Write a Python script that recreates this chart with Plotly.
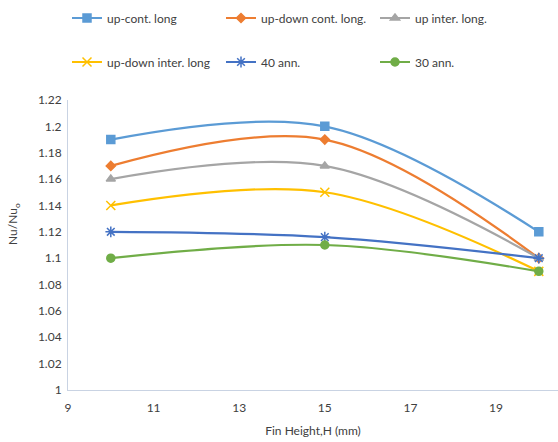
import plotly.graph_objects as go

fin_height = [10, 15, 20]
series_names = ["up-cont. long", "up-down cont. long.", "up inter. long.",
                "up-down inter. long", "40 ann.", "30 ann."]
up_cont = [1.19, 1.20, 1.12]
up_down_cont = [1.17, 1.19, 1.10]
up_inter = [1.16, 1.17, 1.10]
up_down_inter = [1.14, 1.15, 1.09]
ann40 = [1.12, 1.116, 1.10]
ann30 = [1.10, 1.11, 1.09]

values = [up_cont, up_down_cont, up_inter, up_down_inter, ann40, ann30]
colors = ["#5B9BD5", "#ED7D31", "#A5A5A5", "#FFC000", "#4472C4", "#70AD47"]
symbols = ["square", "diamond", "triangle-up", "x-thin-open", "asterisk-open", "circle"]
sizes = [8, 7, 8, 9, 9, 8]
legends = ["legend", "legend", "legend", "legend2", "legend2", "legend2"]

FONT = "Lato"
TXT = "#404040"
fig = go.Figure()
for name, vals, c, s, sz, lg in zip(series_names, values, colors, symbols, sizes, legends):
    fig.add_trace(go.Scatter(
        x=fin_height, y=vals, name=name, mode="lines+markers",
        line=dict(color=c, width=2.2, shape="spline", smoothing=1.0),
        marker=dict(symbol=s, size=sz, color=c, line=dict(color=c, width=1.5)),
        legend=lg,
    ))

leg_common = dict(orientation="h", xanchor="left", yanchor="middle",
                  entrywidth=109, entrywidthmode="pixels",
                  font=dict(family=FONT, size=12, color=TXT),
                  bgcolor="rgba(0,0,0,0)", tracegroupgap=0, itemwidth=30)

fig.update_layout(
    width=558, height=442,
    margin=dict(l=68, r=0, t=100, b=52, autoexpand=False),
    paper_bgcolor="white", plot_bgcolor="white",
    font=dict(family=FONT, size=12, color=TXT),
    showlegend=True,
    legend=dict(x=-1 / 490, y=(390 - 18) / 290, **leg_common),
    legend2=dict(x=-1 / 490, y=(390 - 62) / 290, **leg_common),
    xaxis=dict(range=[9, 9 + 490 / 42.8], tick0=9, dtick=2, showgrid=False,
               zeroline=False, showline=True, linecolor="#C9D3E3", linewidth=1,
               ticks="", ticklabelstandoff=7, tickfont=dict(family=FONT, size=12, color=TXT),
               title=dict(text="Fin Height,H (mm)", font=dict(family=FONT, size=12, color=TXT),
                          standoff=12)),
    yaxis=dict(range=[1, 1.22], showgrid=False,
               zeroline=False, showline=True, linecolor="#C9D3E3", linewidth=1,
               ticks="", ticklabelstandoff=3, tickfont=dict(family=FONT, size=12, color=TXT),
               tickvals=[1, 1.02, 1.04, 1.06, 1.08, 1.1, 1.12, 1.14, 1.16, 1.18, 1.2, 1.22],
               ticktext=["1", "1.02", "1.04", "1.06", "1.08", "1.1", "1.12", "1.14",
                         "1.16", "1.18", "1.2", "1.22"]),
    annotations=[dict(text="Nu/Nu<sub>o</sub>", textangle=-90, showarrow=False,
                      xref="paper", yref="paper", x=(13 - 68) / 490, y=(390 - 224) / 290,
                      xanchor="center", yanchor="middle",
                      font=dict(family=FONT, size=12, color=TXT))],
)

fig.write_html("out.html", config={"displayModeBar": False},
               post_script="document.body.style.margin='0';document.body.style.padding='0';")
